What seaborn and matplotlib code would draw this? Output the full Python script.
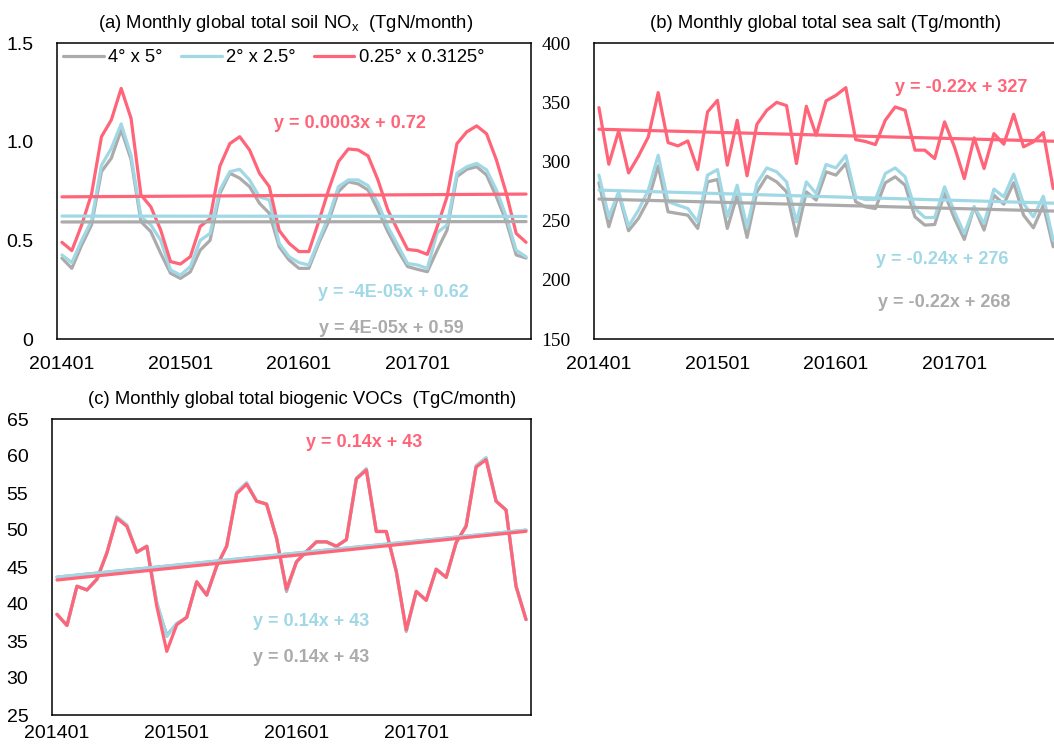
import numpy as np
import pandas as pd
import matplotlib
matplotlib.use('Agg')
import matplotlib.pyplot as plt
import seaborn as sns

# ---- data ----
tick_labels = ['201401', '201501', '201601', '201701']
res_names = ['4° x 5°', '2° x 2.5°', '0.25° x 0.3125°']
colors = ['#ababab', '#a0d8e6', '#ff6478']

# (a) soil NOx, TgN/month
nox_4x5 = [0.41, 0.358, 0.476, 0.578, 0.848, 0.916, 1.06, 0.91, 0.595, 0.544, 0.434, 0.333,
           0.307, 0.34, 0.45, 0.50, 0.738, 0.84, 0.815, 0.772, 0.688, 0.637, 0.468, 0.40,
           0.358, 0.358, 0.485, 0.595, 0.747, 0.797, 0.786, 0.755, 0.654, 0.544, 0.45, 0.367,
           0.353, 0.341, 0.45, 0.552, 0.823, 0.86, 0.873, 0.831, 0.72, 0.595, 0.426, 0.41]
nox_2x25 = [0.426, 0.387, 0.50, 0.60, 0.88, 0.966, 1.09, 0.93, 0.62, 0.578, 0.50, 0.35,
            0.324, 0.367, 0.50, 0.535, 0.755, 0.848, 0.86, 0.806, 0.72, 0.705, 0.485, 0.417,
            0.387, 0.375, 0.50, 0.62, 0.772, 0.806, 0.806, 0.777, 0.688, 0.569, 0.476, 0.383,
            0.375, 0.358, 0.539, 0.578, 0.84, 0.873, 0.89, 0.857, 0.755, 0.62, 0.45, 0.417]
nox_025 = [0.49, 0.448, 0.578, 0.735, 1.025, 1.11, 1.27, 1.118, 0.73, 0.67, 0.552, 0.392,
           0.38, 0.417, 0.57, 0.61, 0.877, 0.99, 1.025, 0.958, 0.84, 0.772, 0.55, 0.485,
           0.443, 0.443, 0.595, 0.755, 0.899, 0.963, 0.958, 0.928, 0.806, 0.654, 0.552, 0.454,
           0.448, 0.429, 0.569, 0.721, 0.99, 1.05, 1.08, 1.04, 0.907, 0.738, 0.535, 0.49]
nox_slope = [0.00004, -0.00004, 0.0003]
nox_icpt = [0.593, 0.623, 0.72]
nox_eqs = ['y = 4E-05x + 0.59', 'y = -4E-05x + 0.62', 'y = 0.0003x + 0.72']

# (b) sea salt, Tg/month
salt_4x5 = [281.9, 244.8, 272.9, 241.4, 251.8, 267.3, 296.2, 257.4, 256.0, 254.6, 243.4, 282.7,
            284.7, 243.4, 271.5, 235.8, 274.3, 287.5, 282.7, 274.3, 236.9, 274.3, 267.3, 291.2,
            288.4, 298.2, 265.9, 261.6, 260.2, 281.9, 287.0, 279.9, 253.2, 246.2, 246.7, 272.9,
            251.8, 234.1, 261.6, 242.0, 271.5, 263.9, 281.9, 254.6, 243.9, 263.0, 227.9, 235.0]
salt_2x25 = [288.4, 253.2, 274.3, 245.3, 258.8, 275.7, 305.2, 265.9, 263.0, 260.2, 249.0, 288.4,
             293.1, 253.2, 279.9, 244.8, 281.3, 294.5, 291.2, 282.7, 249.0, 282.7, 272.9, 297.4,
             294.5, 305.0, 270.1, 267.8, 267.8, 289.8, 294.5, 287.0, 260.2, 252.6, 252.6, 278.5,
             257.4, 239.1, 261.6, 247.6, 276.6, 270.1, 289.2, 264.4, 253.2, 270.6, 233.5, 240.0]
salt_025 = [345.4, 297.6, 325.8, 290.3, 304.4, 320.7, 358.1, 315.9, 313.1, 317.3, 293.1, 341.8,
            351.6, 296.8, 334.8, 287.8, 331.4, 343.2, 349.9, 347.1, 298.2, 346.6, 322.1, 351.1,
            355.8, 362.3, 318.4, 316.8, 314.2, 334.8, 346.0, 343.2, 309.5, 309.5, 302.4, 333.4,
            312.3, 285.5, 319.9, 294.0, 323.5, 314.5, 339.8, 312.3, 316.5, 324.4, 277.1, 283.0]
salt_slope = [-0.22, -0.24, -0.22]
salt_icpt = [268.4, 276.0, 327.4]
salt_eqs = ['y = -0.22x + 268', 'y = -0.24x + 276', 'y = -0.22x + 327']

# (c) biogenic VOCs, TgC/month
voc_4x5 = [38.6, 37.1, 42.4, 41.9, 43.35, 46.9, 51.7, 50.6, 47.0, 47.8, 40.0, 35.8,
           37.3, 38.2, 43.0, 41.2, 45.1, 47.8, 55.0, 56.3, 53.9, 53.5, 48.9, 41.7,
           45.7, 47.1, 48.4, 48.4, 47.8, 48.7, 57.0, 58.2, 49.8, 49.8, 44.4, 36.3,
           41.7, 40.5, 44.7, 43.6, 48.3, 50.6, 58.6, 59.7, 53.9, 52.7, 42.4, 37.9]
voc_2x25 = [38.6, 37.1, 42.4, 41.9, 43.35, 46.9, 51.8, 50.7, 47.0, 47.8, 40.3, 35.6,
            37.4, 38.2, 43.0, 41.2, 45.1, 47.8, 55.1, 56.4, 53.9, 53.5, 48.9, 41.9,
            45.7, 47.1, 48.4, 48.4, 47.8, 48.7, 57.0, 58.3, 49.8, 49.8, 44.4, 36.4,
            41.7, 40.5, 44.7, 43.6, 48.3, 50.6, 58.7, 59.8, 53.9, 52.7, 42.4, 37.9]
voc_025 = [38.6, 37.1, 42.4, 41.9, 43.35, 46.9, 51.6, 50.5, 47.0, 47.8, 39.7, 33.6,
           37.2, 38.2, 43.0, 41.2, 45.1, 47.8, 54.9, 56.2, 53.9, 53.5, 48.9, 42.0,
           45.7, 47.1, 48.4, 48.4, 47.8, 48.7, 56.9, 58.1, 49.8, 49.8, 44.4, 36.5,
           41.7, 40.5, 44.7, 43.6, 48.3, 50.5, 58.5, 59.5, 53.9, 52.7, 42.4, 37.9]
voc_slope = [0.135, 0.135, 0.14]
voc_icpt = [43.5, 43.5, 43.1]
voc_eqs = ['y = 0.14x + 43', 'y = 0.14x + 43', 'y = 0.14x + 43']

sns.set_style('white')
plt.rcParams['font.family'] = ['Liberation Sans', 'DejaVu Sans']
plt.rcParams['mathtext.fontset'] = 'custom'
plt.rcParams['mathtext.rm'] = 'Liberation Sans'
plt.rcParams['text.color'] = 'black'
plt.rcParams['xtick.color'] = 'black'
plt.rcParams['ytick.color'] = 'black'

W, H = 1054, 746
fig = plt.figure(figsize=(W / 100, H / 100), dpi=100)


def px_box(left, top, right, bottom):
    return [left / W, 1 - bottom / H, (right - left) / W, (bottom - top) / H]


def draw_panel(ax, series, slopes, icpts, legend, xpad=12):
    n = len(series[0])
    idx = np.arange(n)
    df = pd.DataFrame({
        'idx': np.tile(idx, 3),
        'value': np.concatenate(series),
        'res': np.repeat(res_names, n),
    })
    sns.lineplot(data=df, x='idx', y='value', hue='res', hue_order=res_names,
                 palette=colors, linewidth=2.3, ax=ax, legend=legend)
    # linear trend lines (Excel style, x = 1..n)
    for k in range(3):
        trend = slopes[k] * (idx + 1) + icpts[k]
        sns.lineplot(x=idx, y=trend, color=colors[k], linewidth=2.3, ax=ax)
    ax.set_xlim(-0.5, n - 0.5)
    ax.set_xticks([0, 12, 24, 36])
    ax.set_xticklabels(tick_labels)
    ax.set_xlabel('')
    ax.set_ylabel('')
    ax.tick_params(length=0, labelsize=14)
    ax.tick_params(axis='x', pad=xpad)
    ax.tick_params(axis='y', pad=17)
    for sp in ax.spines.values():
        sp.set_color('black')
        sp.set_linewidth(1.1)


# (a)
ax_a = fig.add_axes(px_box(57, 43, 531, 339))
draw_panel(ax_a, [nox_4x5, nox_2x25, nox_025], nox_slope, nox_icpt, True)
ax_a.set_ylim(0, 1.5)
ax_a.set_yticks([0, 0.5, 1.0, 1.5])
ax_a.set_yticklabels(['0', '0.5', '1.0', '1.5'])
handles, labels = ax_a.get_legend_handles_labels()
ax_a.legend(handles[:3], res_names, loc='upper left', bbox_to_anchor=(0.0, 1.0),
            ncol=3, frameon=False, fontsize=13.2, handlelength=2.2, handletextpad=0.25,
            columnspacing=1.0, borderaxespad=0.0, borderpad=0.35)

# (b)
ax_b = fig.add_axes(px_box(594, 43, 1068, 339))
draw_panel(ax_b, [salt_4x5, salt_2x25, salt_025], salt_slope, salt_icpt, False)
ax_b.set_ylim(150, 400)
ax_b.set_yticks([150, 200, 250, 300, 350, 400])
for lab in ax_b.get_yticklabels():
    lab.set_fontfamily('Liberation Serif')

# (c)
ax_c = fig.add_axes(px_box(52, 419, 531, 715))
draw_panel(ax_c, [voc_4x5, voc_2x25, voc_025], voc_slope, voc_icpt, False, xpad=7)
ax_c.set_ylim(25, 65)
ax_c.set_yticks([25, 30, 35, 40, 45, 50, 55, 60, 65])


def ftext(x, y, s, **kw):
    fig.text(x / W, 1 - y / H, s, ha='center', va='center', **kw)


# titles
ftext(286, 23, r'(a) Monthly global total soil NO$_\mathregular{x}$  (TgN/month)', fontsize=13.3)
ftext(826, 23, '(b) Monthly global total sea salt (Tg/month)', fontsize=13.3)
ftext(302, 400, '(c) Monthly global total biogenic VOCs  (TgC/month)', fontsize=13.3)

# trend equations
eq_pos = {
    'a': [(391, 328), (393, 293), (350, 124)],
    'b': [(944, 302), (942, 260), (961, 88)],
    'c': [(311, 658), (311, 622), (364, 443)],
}
for key, eqs in [('a', nox_eqs), ('b', salt_eqs), ('c', voc_eqs)]:
    for k in range(3):
        x, y = eq_pos[key][k]
        ftext(x, y, eqs[k], fontsize=13, fontweight='bold', color=colors[k])

fig.savefig('out.png', dpi=100)
